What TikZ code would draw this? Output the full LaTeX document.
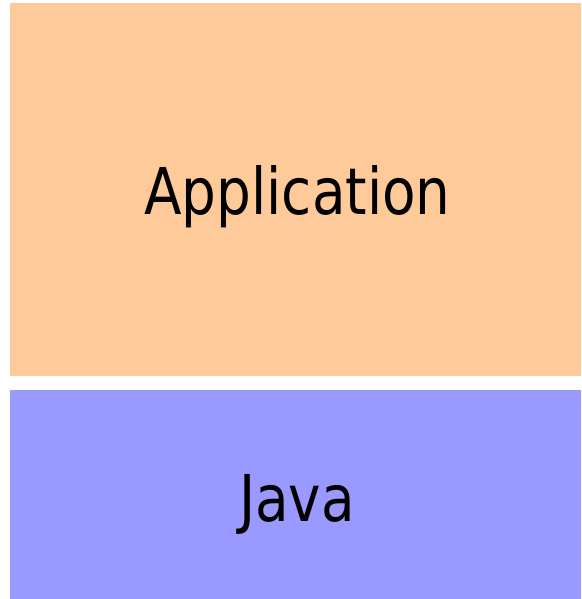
\documentclass[tikz,border=0pt]{standalone}
\usepackage{fontspec}
\setmainfont{DejaVu Sans}[FakeStretch=0.85]
\usepackage{xcolor}
\definecolor{appcolor}{HTML}{FFCA99}
\definecolor{javacolor}{HTML}{9999FF}

\begin{document}
\begin{tikzpicture}[x=1pt,y=1pt]
    \useasboundingbox (0,0) rectangle (581,599);
                        \node (app) at (295.5,409.5) [rectangle,fill=appcolor,inner sep=0pt,minimum width=571pt,minimum height=373pt] {};
                        \node (java) at (295.5,104.5) [rectangle,fill=javacolor,inner sep=0pt,minimum width=571pt,minimum height=209pt] {};
                        \node (applabel) [anchor=base,font=\fontsize{64.5}{70}\selectfont] at (297.5,384) {Application};
                        \node (javalabel) [anchor=base,font=\fontsize{64.5}{70}\selectfont] at (297,77) {Java};
                    \end{tikzpicture}
\end{document}
